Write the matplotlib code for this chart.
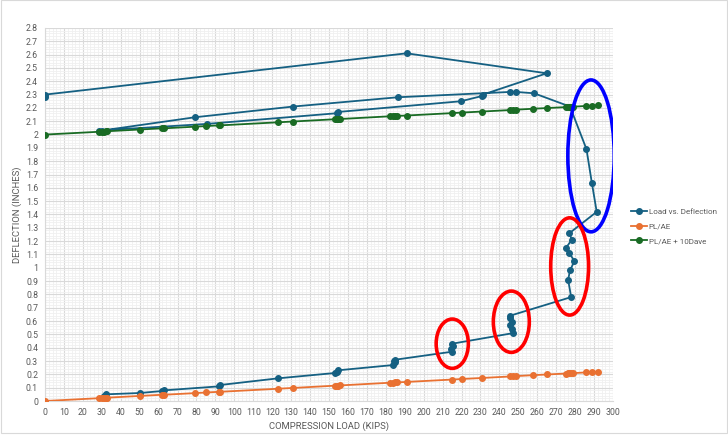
import numpy as np
import matplotlib.pyplot as plt
from matplotlib.patches import Ellipse, Rectangle
from matplotlib.ticker import MultipleLocator, FuncFormatter

plt.rcParams['font.family'] = ['Roboto', 'DejaVu Sans']

# load vs deflection, in the order the points were logged
load_kips = [31, 32, 50, 62, 63, 92, 92.5, 123, 153, 154, 154.5, 184, 185, 184.5, 185,
             215, 214.5, 215.5, 215, 247.4, 246.5, 245.5, 246.5, 245.8, 245.6,
             277.9, 276.3, 277.3, 279.6, 277, 275.2, 278.2, 277, 291.4, 288.8, 286,
             277.3, 258.3, 248.8, 245.6, 186.3, 130.8, 79.2, 30, 28.5, 85.4, 154, 155,
             219.6, 231, 231.3, 265, 191, 0, 0]
defl_in = [0.04, 0.05, 0.06, 0.075, 0.08, 0.11, 0.12, 0.17, 0.21, 0.22, 0.23, 0.27, 0.29, 0.30, 0.31,
           0.37, 0.39, 0.41, 0.43, 0.51, 0.54, 0.57, 0.59, 0.62, 0.64,
           0.78, 0.91, 0.98, 1.05, 1.11, 1.15, 1.21, 1.26, 1.42, 1.64, 1.89,
           2.21, 2.31, 2.32, 2.32, 2.28, 2.21, 2.13, 2.03, 2.03, 2.08, 2.16, 2.17,
           2.25, 2.29, 2.30, 2.46, 2.61, 2.30, 2.28]

# theoretical PL/AE and PL/AE + 10Dave
calc_load = [0, 28.5, 30, 31, 32, 33, 50, 62, 63, 79, 85, 92, 92.5, 123, 131, 153, 154, 155, 156,
             182, 184, 185, 186, 191, 215, 220, 231, 245.6, 247, 249, 258, 265,
             275, 276, 277, 278, 279, 286, 289, 292]
pl_ae = [0, 0.021, 0.023, 0.023, 0.024, 0.025, 0.038, 0.047, 0.047, 0.059, 0.064, 0.069, 0.069,
         0.092, 0.098, 0.115, 0.116, 0.116, 0.117, 0.137, 0.138, 0.139, 0.14, 0.143, 0.161,
         0.165, 0.173, 0.184, 0.185, 0.187, 0.194, 0.199, 0.206, 0.207, 0.208, 0.209, 0.209,
         0.215, 0.217, 0.219]
pl_ae_10d = [2.0, 2.021, 2.023, 2.023, 2.024, 2.025, 2.038, 2.047, 2.047, 2.059, 2.064, 2.069, 2.069,
             2.092, 2.098, 2.115, 2.116, 2.116, 2.117, 2.137, 2.138, 2.139, 2.14, 2.143, 2.161,
             2.165, 2.173, 2.184, 2.185, 2.187, 2.194, 2.199, 2.206, 2.207, 2.208, 2.209, 2.209,
             2.215, 2.217, 2.219]

# hand-drawn highlight ellipses: (center x, center y, width kips, height in, colour)
ellipses = [(288.4, 1.84, 24.5, 1.14, '#0000FF'),
            (215.1, 0.43, 17.0, 0.37, '#FF0000'),
            (246.3, 0.595, 19.0, 0.46, '#FF0000'),
            (277.1, 1.01, 20.0, 0.73, '#FF0000')]

W, H = 728, 436
fig = plt.figure(figsize=(W / 100, H / 100), dpi=100)
ax = fig.add_axes([45 / W, 1 - 401 / H, 568 / W, 373 / H])

blue, orange, green = '#156082', '#E97132', '#196B24'
ax.plot(load_kips, defl_in, '-o', color=blue, lw=1.3, ms=4, label='Load vs. Deflection', zorder=3)
ax.plot(calc_load, pl_ae, '-o', color=orange, lw=1.3, ms=4, label='PL/AE', zorder=4)
ax.plot(calc_load, pl_ae_10d, '-o', color=green, lw=1.3, ms=4, label='PL/AE + 10Dave', zorder=4)

for cx, cy, ew, eh, c in ellipses:
    ax.add_patch(Ellipse((cx, cy), ew, eh, fill=False, ec=c, lw=2.6, zorder=6))

ax.set_xlim(0, 300)
ax.set_ylim(0, 2.8)
ax.xaxis.set_major_locator(MultipleLocator(10))
ax.yaxis.set_major_locator(MultipleLocator(0.1))
ax.xaxis.set_minor_locator(MultipleLocator(2))
ax.yaxis.set_minor_locator(MultipleLocator(0.02))
ax.xaxis.set_major_formatter(FuncFormatter(lambda v, p: f'{v:g}'))
ax.yaxis.set_major_formatter(FuncFormatter(lambda v, p: f'{round(v, 1):g}'))
ax.grid(which='major', color='#D9D9D9', lw=0.8)
ax.grid(which='minor', color='#F0F0F0', lw=0.6)
ax.set_axisbelow(True)
ax.tick_params(which='both', length=0, labelsize=6.3, labelcolor='#595959')
ax.tick_params(axis='x', pad=5)
ax.tick_params(axis='y', pad=5)
for s in ['top', 'right']:
    ax.spines[s].set_visible(False)
for s in ['left', 'bottom']:
    ax.spines[s].set_color('#D9D9D9')

fig.text(329 / W, 1 - 426 / H, 'COMPRESSION LOAD (KIPS)', ha='center', va='center',
         fontsize=6.8, color='#595959')
fig.text(17 / W, 1 - 215 / H, 'DEFLECTION (INCHES)', ha='center', va='center',
         rotation=90, fontsize=6.8, color='#595959')

leg = ax.legend(loc='upper left', bbox_to_anchor=(628 / W, 1 - 205 / H),
                bbox_transform=fig.transFigure, frameon=False, fontsize=5.8,
                handlelength=2.0, labelspacing=1.0, handletextpad=0.15, borderaxespad=0)
for t in leg.get_texts():
    t.set_color('#595959')

fig.patches.append(Rectangle((0.5 / W, 3 / H), 1 - 1.5 / W, 1 - 3.5 / H, transform=fig.transFigure,
                             fill=False, ec='#D9D9D9', lw=0.8))

fig.savefig('out.png', dpi=100)
